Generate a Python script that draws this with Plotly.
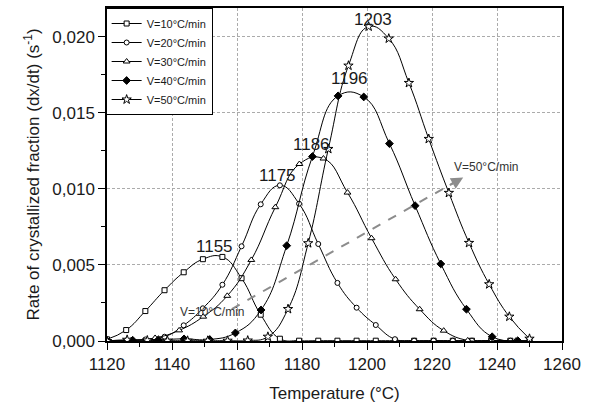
import plotly.graph_objects as go

# Temperatures (°C) and rates (s^-1)
t10 = [1120.0, 1125.9, 1131.8, 1137.7, 1143.6, 1149.5, 1155.5, 1161.4, 1167.3, 1173.2,
       1179.1, 1185.0, 1190.9, 1196.8, 1202.7, 1208.6, 1214.5, 1220.5, 1226.4, 1232.3,
       1238.2, 1244.1, 1250.0]
v10 = [0.00011, 0.00072, 0.00197, 0.00334, 0.00452, 0.00538, 0.00553, 0.00413, 0.00173, 0.00015,
       0.00002, 0.00002, 0.00002, 0.00002, 0.00002, 0.00002, 0.00002, 0.00002, 0.00002, 0.00002,
       0.00002, 0.00002, 0.00002]

t20 = [1120.0, 1125.9, 1131.8, 1137.7, 1143.6, 1149.5, 1155.5, 1161.4, 1167.3, 1173.2,
       1179.1, 1185.0, 1190.9, 1196.8, 1202.7, 1208.6, 1214.5, 1220.5, 1226.4, 1232.3,
       1238.2, 1244.1, 1250.0]
v20 = [0.0, 0.00003, 0.0001, 0.00028, 0.00103, 0.00215, 0.0037, 0.00623, 0.00899, 0.01024,
       0.00903, 0.00638, 0.00382, 0.00219, 0.00105, 0.00012, 0.00002, 0.00002, 0.00002, 0.00002,
       0.00002, 0.00002, 0.00002]

t30 = [1120.0, 1127.4, 1134.8, 1142.2, 1149.6, 1157.0, 1164.4, 1171.8, 1179.2, 1186.6,
       1194.0, 1201.4, 1208.8, 1216.2, 1223.6, 1231.0, 1238.4, 1245.8]
v30 = [0.0, 0.00003, 0.0002, 0.0007, 0.0016, 0.00297, 0.00533, 0.0088, 0.01164, 0.0120,
       0.00976, 0.00676, 0.00406, 0.00209, 0.00068, 0.00004, 0.00002, 0.00002]

t40 = [1120.0, 1127.9, 1135.8, 1143.7, 1151.6, 1159.5, 1167.4, 1175.3, 1183.2, 1191.1,
       1199.0, 1206.9, 1214.8, 1222.7, 1230.6, 1238.5, 1246.4]
v40 = [0.0, 0.00005, 0.00008, 0.00014, 0.0001, 0.00053, 0.00204, 0.00627, 0.01213, 0.01612,
       0.01605, 0.01298, 0.0089, 0.00507, 0.00209, 0.00028, 0.00002]

t50 = [1120.0, 1126.2, 1132.4, 1138.6, 1144.8, 1151.0, 1157.1, 1163.3, 1169.5, 1175.7,
       1181.9, 1188.1, 1194.3, 1200.5, 1206.7, 1212.9, 1219.0, 1225.2, 1231.4, 1237.6,
       1243.8, 1250.0]
v50 = [0.0, 0.00008, 0.00004, 0.00002, 0.00002, 0.00002, 0.00002, 0.00003, 0.00028, 0.0021,
       0.00643, 0.01263, 0.01811, 0.02068, 0.01989, 0.01697, 0.01329, 0.00974, 0.00645, 0.00373,
       0.0016, 0.00015]

series = [
    ("V=10°C/min", t10, v10, "square", "white", 5),
    ("V=20°C/min", t20, v20, "circle", "white", 5),
    ("V=30°C/min", t30, v30, "triangle-up", "white", 6),
    ("V=40°C/min", t40, v40, "diamond", "black", 6),
    ("V=50°C/min", t50, v50, "star", "white", 7),
]

peak_T = [1155, 1175, 1186, 1196, 1203]
peak_label_pos = [(1153.1, 0.0062), (1172.4, 0.01086), (1182.9, 0.01294),
                  (1194.5, 0.01724), (1201.8, 0.02116)]

FONT = "Liberation Sans, Arial, sans-serif"

fig = go.Figure()
for name, t, v, sym, fill, sz in series:
    fig.add_trace(go.Scatter(
        x=t, y=v, name=name, mode="lines+markers",
        line=dict(color="black", width=1, shape="spline", smoothing=1.3),
        marker=dict(symbol=sym, size=sz, color=fill, line=dict(color="black", width=1)),
    ))

for lbl, (px, py) in zip(peak_T, peak_label_pos):
    fig.add_annotation(x=px, y=py, text=str(lbl), showarrow=False,
                       font=dict(family=FONT, size=17, color="#1a1a1a"))

# dashed trend arrow
fig.add_shape(type="line", x0=1158.4, y0=0.0021, x1=1227.0, y1=0.01045,
              line=dict(color="#8c8c8c", width=2, dash="dash"))
fig.add_annotation(x=1229.6, y=0.01075, ax=1225.0, ay=0.0102, xref="x", yref="y",
                   axref="x", ayref="y", showarrow=True, arrowhead=2, arrowsize=1.2,
                   arrowwidth=2, arrowcolor="#8c8c8c", text="")
fig.add_annotation(x=1152.6, y=0.0019, text="V=10°C/min", showarrow=False,
                   font=dict(family=FONT, size=12, color="#333"))
fig.add_annotation(x=1236.7, y=0.01147, text="V=50°C/min", showarrow=False,
                   font=dict(family=FONT, size=12, color="#333"))

axis_common = dict(
    showline=True, linecolor="black", linewidth=1.5, mirror=True,
    ticks="outside", ticklen=7, tickwidth=1, tickcolor="black",
    showgrid=True, gridcolor="#ababab", griddash="3px,2px", gridwidth=1,
    zeroline=False, automargin=False,
    tickfont=dict(family=FONT, size=17, color="#1a1a1a"),
    title_font=dict(family=FONT, size=17, color="#1a1a1a"),
)

fig.update_xaxes(range=[1120, 1260], tick0=1120, dtick=20, tickformat="d",
                 minor=dict(ticks="outside", ticklen=4, dtick=10, tickcolor="black", showgrid=False),
                 title_text="Temperature (°C)", title_standoff=14, **axis_common)
fig.update_yaxes(range=[0, 0.0219], tick0=0, dtick=0.005, tickformat=".3f",
                 minor=dict(ticks="outside", ticklen=4, dtick=0.0025, tickcolor="black", showgrid=False),
                 title_text="Rate of crystallized fraction (dx/dt) (s<sup>-1</sup>)",
                 title_standoff=8, **axis_common)

fig.update_layout(
    width=595, height=403,
    margin=dict(l=107, r=33, t=8, b=62, autoexpand=False),
    plot_bgcolor="white", paper_bgcolor="white",
    separators=",.",
    showlegend=True,
    legend=dict(x=-0.003, y=1.0, xanchor="left", yanchor="top",
                bgcolor="white", bordercolor="black", borderwidth=1,
                font=dict(family=FONT, size=11, color="#1a1a1a"),
                itemwidth=30, tracegroupgap=0),
    font=dict(family=FONT),
)

fig.write_html("out.html", config={"displayModeBar": False},
               post_script="document.body.style.margin='0';document.body.style.padding='0';")
